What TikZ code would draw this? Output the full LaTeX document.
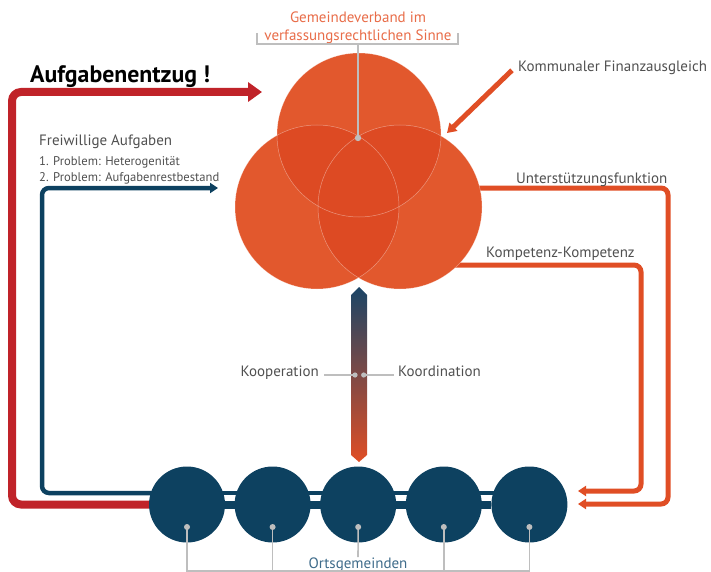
\documentclass[tikz,border=0pt]{standalone}
\usepackage{fontspec}
\setmainfont{PT Sans}
\usepackage{tikz}
\usetikzlibrary{arrows.meta}

\definecolor{navy}{RGB}{13,65,96}
\definecolor{barnavy}{RGB}{27,69,102}
\definecolor{redline}{RGB}{192,35,41}
\definecolor{corange}{RGB}{226,88,45}
\definecolor{darkorange}{RGB}{221,74,35}
\definecolor{oline}{RGB}{224,78,37}
\definecolor{otext}{RGB}{232,108,72}
\definecolor{txtgray}{RGB}{80,80,80}
\definecolor{linegray}{RGB}{190,190,190}
\definecolor{ogtext}{RGB}{62,107,138}

\pgfdeclarelayer{back}
\pgfsetlayers{back,main}

\tikzset{
  lbl/.style={text=txtgray, inner sep=0pt, font=\fontsize{15}{18}\selectfont},
  smalllbl/.style={text=txtgray, inner sep=0pt, font=\fontsize{12.6}{14}\selectfont},
  ring/.style={circle, fill=corange, minimum size=164pt, inner sep=0pt},
  gemeinde/.style={circle, fill=navy, minimum size=76pt, inner sep=0pt},
  gline/.style={draw=linegray, line width=1.6pt},
  entzug/.style={draw=redline, line width=8pt, rounded corners=9pt, -{Triangle[length=14pt,width=19pt]}},
  freiwillig/.style={draw=navy, line width=4.5pt, rounded corners=7pt, -{Triangle[length=8pt,width=10pt]}},
  stuetze/.style={draw=oline, line width=5pt, rounded corners=7pt, -{Triangle[length=8pt,width=10pt]}},
}

\begin{document}
\begin{tikzpicture}[x=1pt,y=-1pt]
			%%%%% START %%%%%
			\useasboundingbox (0,0) rectangle (711,572);
			
			% Gemeindeverband (drei Kreise)
			\node[ring] (tc) at (359,135) {};
			\node[ring] (lc) at (317,207) {};
			\node[ring] (rc) at (400,207) {};
			\begin{scope}
				\clip (tc.center) circle (82);
				\fill[darkorange] (lc.center) circle (82);
				\fill[darkorange] (rc.center) circle (82);
			\end{scope}
			\begin{scope}
				\clip (lc.center) circle (82);
				\fill[darkorange] (rc.center) circle (82);
			\end{scope}
			\draw[white, opacity=0.4, line width=0.5pt] (tc.center) circle (82);
			\draw[white, opacity=0.4, line width=0.5pt] (lc.center) circle (82);
			\draw[white, opacity=0.4, line width=0.5pt] (rc.center) circle (82);
			
			% Ortsgemeinden
			\node[gemeinde] (g1) at (187,504.5) {};
			\node[gemeinde] (g2) at (272.6,504.5) {};
			\node[gemeinde] (g3) at (358.2,504.5) {};
			\node[gemeinde] (g4) at (443.8,504.5) {};
			\node[gemeinde] (g5) at (529.4,504.5) {};
			
			\coordinate (rleft) at (12,92);
			\coordinate (rtip) at (262,92);
			\coordinate (bleft) at (42,188);
			\coordinate (btip) at (218,188);
			\coordinate (ucorner) at (668,504);
			\coordinate (uf) at (578,504);
			\coordinate (kcorner) at (641,491);
			\coordinate (kk) at (578,491);
			\coordinate (kfatip) at (447,133);
			
			\begin{pgfonlayer}{back}
				\draw[navy, line width=8pt] (g1) -- (g5);
				\draw[navy, line width=4pt] ([yshift=11.5pt]g1.center) -- ([yshift=11.5pt]g5.center);
				\draw[entzug] (g1) -| (rleft) -- (rtip);
				\draw[freiwillig] ([yshift=11.5pt]g1.center) -| (bleft) -- (btip);
				\draw[stuetze] ([yshift=19pt]rc.center) -| (ucorner) -- (uf);
				\draw[stuetze] ([yshift=-58pt]rc.center) -| (kcorner) -- (kk);
			\end{pgfonlayer}
			
			% Texte
			\node[inner sep=0pt, anchor=base west, font=\fontsize{23.8}{26}\selectfont\bfseries, text=black] (entzugtxt) at (30,83) {Aufgabenentzug !};
			\node[lbl, anchor=base west] (fa) at (39,146) {Freiwillige Aufgaben};
			\node[smalllbl, anchor=base west] (p1) at (39,165) {1. Problem: Heterogenität};
			\node[smalllbl, anchor=base west] (p2) at (39,182) {2. Problem: Aufgabenrestbestand};
			\node[lbl, anchor=base west] (kfa) at (518,72) {Kommunaler Finanzausgleich};
			\node[lbl, anchor=base west] (uft) at (516,183) {Unterstützungsfunktion};
			\node[lbl, anchor=base west] (kkt) at (486,257) {Kompetenz-Kompetenz};
			\node[lbl, anchor=base, text=otext] (gv1) at (358,23) {Gemeindeverband im};
			\node[lbl, anchor=base, text=otext] (gv2) at (358,41) {verfassungsrechtlichen Sinne};
			\node[lbl, anchor=base, text=ogtext] (og) at (358,568) {Ortsgemeinden};
			\node[lbl, anchor=base east] (koop) at (319,376) {Kooperation};
			\node[lbl, anchor=base west] (koord) at (398,376) {Koordination};
			
			% Finanzausgleich Pfeil
			\draw[oline, line width=5pt, -{Triangle[length=9pt,width=11pt]}] ([xshift=-6pt,yshift=-2pt]kfa.west) -- (kfatip);
			
			% Klammer oben
			\draw[gline] (257,33) |- (458,44) -- (458,33);
			\coordinate (topdot) at (358,138);
			\draw[gline] (topdot |- 0,44) -- (topdot);
			\fill[linegray] (topdot) circle (3.2);
			
			% Verbindungsbalken
			\shade[top color=barnavy, bottom color=oline] (351,295) -- (359,287) -- (367,295) -- (367,455) -- (359,462) -- (351,455) -- cycle;
			\coordinate (kdot1) at (355,375);
			\coordinate (kdot2) at (363.7,375);
			\draw[gline] ([xshift=5pt]koop.east |- kdot1) -- (kdot1);
			\draw[gline] (kdot2) -- ([xshift=-4pt]koord.west |- kdot2);
			\fill[linegray] (kdot1) circle (2.6);
			\fill[linegray] (kdot2) circle (2.6);
			
			% Klammer unten
			\draw[gline] ([yshift=-22.5pt]g1.center) -- (g1 |- 0,571) -- (g5 |- 0,571) -- ([yshift=-22.5pt]g5.center);
			\draw[gline] ([yshift=-22.5pt]g2.center) -- (g2 |- 0,571);
			\draw[gline] ([yshift=-22.5pt]g4.center) -- (g4 |- 0,571);
			\draw[gline] ([yshift=-22.5pt]g3.center) -- (og.north);
			\fill[linegray] ([yshift=-22.5pt]g1.center) circle (3);
			\fill[linegray] ([yshift=-22.5pt]g2.center) circle (3);
			\fill[linegray] ([yshift=-22.5pt]g3.center) circle (3);
			\fill[linegray] ([yshift=-22.5pt]g4.center) circle (3);
			\fill[linegray] ([yshift=-22.5pt]g5.center) circle (3);
			%%%%% END %%%%%
\end{tikzpicture}
\end{document}
